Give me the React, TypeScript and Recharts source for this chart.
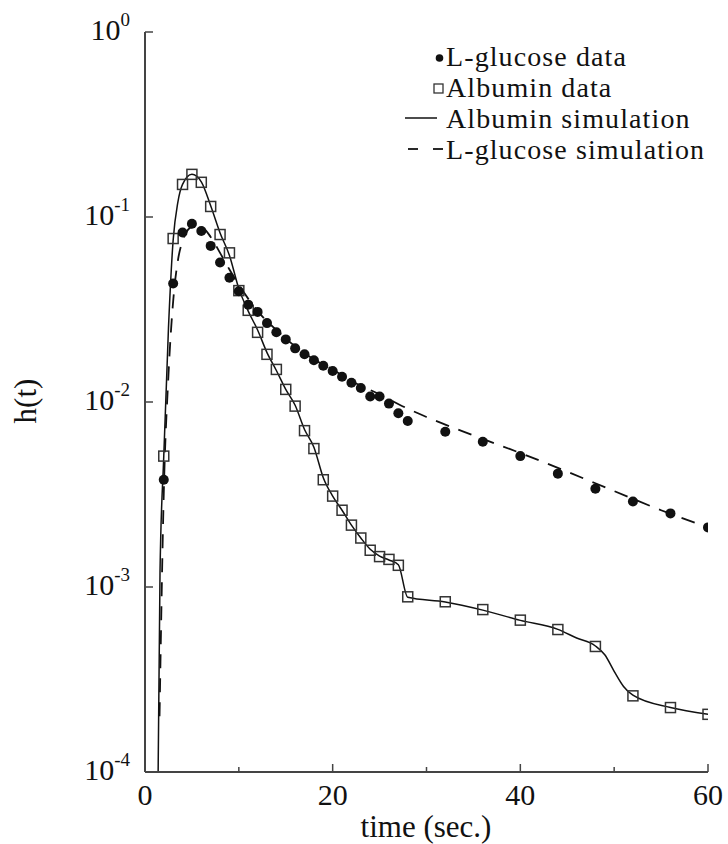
import React from 'react';
import { ComposedChart, Line, Scatter, XAxis, YAxis } from 'recharts';

// ---- data ----
const glucoseT = [2, 3, 4, 5, 6, 7, 8, 9, 10, 11, 12, 13, 14, 15, 16, 17, 18, 19, 20, 21, 22, 23, 24, 25, 26, 27, 28, 32, 36, 40, 44, 48, 52, 56, 60];
const glucoseH = [0.0038, 0.0437, 0.0824, 0.092, 0.084, 0.0698, 0.0567, 0.047, 0.0397, 0.0336, 0.0307, 0.0267, 0.0238, 0.0218, 0.0195, 0.0181, 0.0168, 0.0157, 0.0147, 0.0137, 0.0127, 0.0119, 0.0107, 0.0107, 0.0098, 0.0087, 0.0079, 0.0069, 0.0061, 0.0051, 0.0041, 0.0034, 0.0029, 0.0025, 0.0021];

const albuminT = [2, 3, 4, 5, 6, 7, 8, 9, 10, 11, 12, 13, 14, 15, 16, 17, 18, 19, 20, 21, 22, 23, 24, 25, 26, 27, 28, 32, 36, 40, 44, 48, 52, 56, 60];
const albuminH = [0.0051, 0.0765, 0.15, 0.17, 0.154, 0.114, 0.0804, 0.064, 0.04, 0.0313, 0.0238, 0.0181, 0.015, 0.0117, 0.0095, 0.007, 0.0056, 0.0038, 0.0031, 0.0026, 0.00216, 0.00184, 0.00158, 0.00146, 0.00141, 0.00131, 0.000885, 0.000832, 0.000755, 0.000662, 0.000589, 0.000477, 0.000258, 0.000223, 0.000205];

const albuminSimT = [1.4, 1.6, 2, 2.5, 3, 3.5, 4, 5, 6, 7, 8, 9, 10, 11, 12, 13, 14, 15, 16, 17, 18, 19, 20, 21, 22, 23, 24, 25, 26, 27, 28, 32, 36, 40, 44, 46, 48, 49, 50, 51, 52, 56, 60];
const albuminSimH = [0.0001, 0.0012, 0.0051, 0.025, 0.075, 0.12, 0.15, 0.17, 0.155, 0.115, 0.082, 0.062, 0.041, 0.031, 0.0245, 0.0185, 0.0148, 0.0117, 0.0096, 0.0071, 0.0057, 0.0039, 0.0031, 0.0026, 0.00216, 0.00184, 0.0016, 0.00147, 0.0014, 0.00132, 0.00088, 0.00083, 0.00075, 0.00066, 0.00059, 0.00053, 0.00048, 0.00043, 0.00035, 0.00029, 0.00026, 0.000223, 0.000205];

const glucoseSimT = [1.55, 2, 2.5, 3, 3.5, 4, 5, 6, 7, 8, 9, 10, 12, 14, 16, 18, 20, 22, 25, 28, 30, 35, 40, 45, 50, 55, 60];
const glucoseSimH = [0.0002, 0.0032, 0.014, 0.035, 0.058, 0.074, 0.088, 0.088, 0.078, 0.064, 0.052, 0.043, 0.031, 0.0245, 0.02, 0.017, 0.015, 0.013, 0.011, 0.0092, 0.0083, 0.0066, 0.0053, 0.0042, 0.0033, 0.0026, 0.0021];

const xTicks = [0, 10, 20, 30, 40, 50, 60];
const yTicks = [0.0001, 0.001, 0.01, 0.1, 1];

const legendLabels = ['L-glucose data', 'Albumin data', 'Albumin simulation', 'L-glucose simulation'];
const xTitle = 'time (sec.)';
const yTitle = 'h(t)';

const glucoseData = glucoseT.map((t, i) => ({ t, h: glucoseH[i] }));
const albuminData = albuminT.map((t, i) => ({ t, h: albuminH[i] }));
const albuminSim = albuminSimT.map((t, i) => ({ t, h: albuminSimH[i] }));
const glucoseSim = glucoseSimT.map((t, i) => ({ t, h: glucoseSimH[i] }));

const FONT = '"Liberation Serif", "Times New Roman", serif';
const AXIS = '#444';
const INK = '#111';

const XTick = (props: any) => {
  const { x, y, payload } = props;
  const v = payload.value;
  const major = v % 20 === 0;
  return (
    <g>
      <line x1={x} x2={x} y1={y} y2={y - (major ? 8 : 5)} stroke={AXIS} strokeWidth={1.5} />
      {major && (
        <text x={x} y={y + 33} textAnchor="middle" fontFamily={FONT} fontSize={30} fill={INK}>
          {v}
        </text>
      )}
    </g>
  );
};

const YTick = (props: any) => {
  const { x, y, payload } = props;
  const e = Math.round(Math.log10(payload.value));
  return (
    <g>
      <line x1={x} x2={x + 8} y1={y} y2={y} stroke={AXIS} strokeWidth={1.5} />
      <text x={x - 15} y={y + 8} textAnchor="end" fontFamily={FONT} fontSize={30} fill={INK}>
        <tspan>10</tspan>
        <tspan dy={-14} fontSize={19}>{e === 0 ? '0' : '-' + Math.abs(e)}</tspan>
      </text>
    </g>
  );
};

const Dot = (props: any) => {
  const { cx, cy } = props;
  if (cx == null || cy == null) return null;
  return <circle cx={cx} cy={cy} r={5} fill={INK} />;
};

const Square = (props: any) => {
  const { cx, cy } = props;
  if (cx == null || cy == null) return null;
  return <rect x={cx - 5} y={cy - 5} width={10} height={10} fill="none" stroke="#333" strokeWidth={1.5} />;
};

export default function App() {
  return (
    <div style={{ position: 'absolute', left: 0, top: 0, width: 728, height: 844, background: '#fff' }}>
      <ComposedChart width={728} height={844} margin={{ top: 32, right: 20, bottom: 0, left: 0 }}>
        <XAxis
          dataKey="t"
          type="number"
          domain={[0, 60]}
          ticks={xTicks}
          allowDataOverflow
          height={72}
          tickLine={false}
          tickSize={0}
          tickMargin={0}
          tick={<XTick />}
          axisLine={{ stroke: AXIS, strokeWidth: 2 }}
        />
        <YAxis
          dataKey="h"
          type="number"
          scale="log"
          domain={[0.0001, 1]}
          ticks={yTicks}
          allowDataOverflow
          width={145}
          tickLine={false}
          tickSize={0}
          tickMargin={0}
          tick={<YTick />}
          axisLine={{ stroke: AXIS, strokeWidth: 2 }}
        />
        <Line data={albuminSim} dataKey="h" type="monotone" stroke={INK} strokeWidth={1.5} dot={false} isAnimationActive={false} />
        <Line data={glucoseSim} dataKey="h" type="monotone" stroke={INK} strokeWidth={1.8} strokeDasharray="14 10" dot={false} isAnimationActive={false} />
        <Scatter data={albuminData} dataKey="h" shape={<Square />} isAnimationActive={false} />
        <Scatter data={glucoseData} dataKey="h" shape={<Dot />} isAnimationActive={false} />
      </ComposedChart>
      <svg width={728} height={844} style={{ position: 'absolute', left: 0, top: 0, pointerEvents: 'none' }}>
        <text x={426} y={837} textAnchor="middle" fontFamily={FONT} fontSize={31} fill={INK}>{xTitle}</text>
        <text x={36} y={401} transform="rotate(-90 36 401)" textAnchor="middle" fontFamily={FONT} fontSize={31} fill={INK}>{yTitle}</text>
        <g fontFamily={FONT} fontSize={28} letterSpacing={1.1} fill={INK}>
          <circle cx={439.5} cy={58} r={3.8} fill={INK} />
          <text x={446} y={66}>{legendLabels[0]}</text>
          <rect x={434} y={84} width={9} height={9} fill="none" stroke="#333" strokeWidth={1.3} />
          <text x={446} y={97}>{legendLabels[1]}</text>
          <line x1={405} x2={437} y1={118} y2={118} stroke={INK} strokeWidth={1.5} />
          <text x={446} y={128}>{legendLabels[2]}</text>
          <line x1={408} x2={418} y1={149} y2={149} stroke={INK} strokeWidth={1.8} />
          <line x1={433} x2={443} y1={149} y2={149} stroke={INK} strokeWidth={1.8} />
          <text x={446} y={159}>{legendLabels[3]}</text>
        </g>
      </svg>
    </div>
  );
}
